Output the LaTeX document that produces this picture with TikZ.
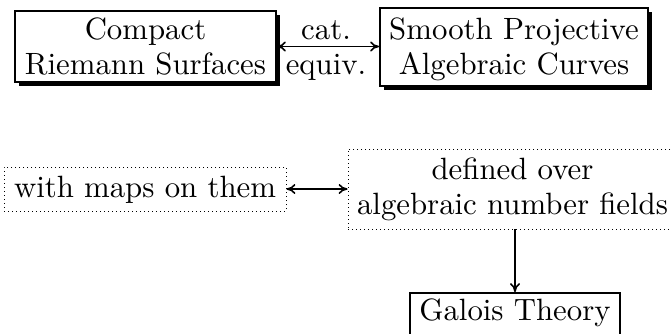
\documentclass[tikz,border=0pt]{standalone}
\usepackage{graphicx}
\usetikzlibrary{arrows.meta,shadows}
\newcommand{\diagtxt}[1]{\scalebox{3.08}{\fontsize{10}{11.36}\selectfont\begin{tabular}[b]{@{}c@{}}#1\end{tabular}}}
\begin{document}
\begin{tikzpicture}[x=1pt,y=-1pt,
  txt/.style={inner sep=0pt, anchor=base},
  sbox/.style={txt, draw, line width=1.8pt, fill=white,
    drop shadow={shadow xshift=3.5pt, shadow yshift=-3.5pt, fill=black, opacity=1}},
  pbox/.style={txt, draw, line width=1.8pt, fill=white},
  dbox/.style={txt, draw, line width=0.9pt, dash pattern=on 0.9pt off 3.1pt},
  biarr/.style={line width=1.6pt, {To[length=9pt,width=10pt]}-{To[length=9pt,width=10pt]}},
  arr/.style={line width=1.6pt, -{To[length=9pt,width=10pt]}}
]
\useasboundingbox (0,0) rectangle (672,333);
\clip (0,0) rectangle (672,333);

\node[sbox, minimum width=261pt, text height=63pt, text depth=8pt] (crs) at (145.5,74) {\diagtxt{Compact\\Riemann Surfaces}};
\node[sbox, minimum width=268pt, text height=66pt, text depth=12pt] (spc) at (514,74) {\diagtxt{Smooth Projective\\Algebraic Curves}};

\draw[biarr] (crs.east) -- (crs.east -| spc.west);
\node[txt] (cat) at (326,39) {\diagtxt{cat.}};
\node[txt] (equiv) at (326,74) {\diagtxt{equiv.}};

\node[dbox, minimum width=282pt, text height=30pt, text depth=14pt] (maps) at (145,197) {\diagtxt{with maps on them}};
\node[dbox, minimum width=329pt, text height=65pt, text depth=15pt] (anf) at (512.5,214) {\diagtxt{defined over\\algebraic number fields}};
\node[pbox, minimum width=210pt, text height=27pt, text depth=20pt] (gal) at (515,320) {\diagtxt{Galois Theory}};

\draw[biarr] (maps.east) -- (anf.west);
\draw[arr] (anf.south -| gal.north) -- (gal.north);
\end{tikzpicture}
\end{document}
